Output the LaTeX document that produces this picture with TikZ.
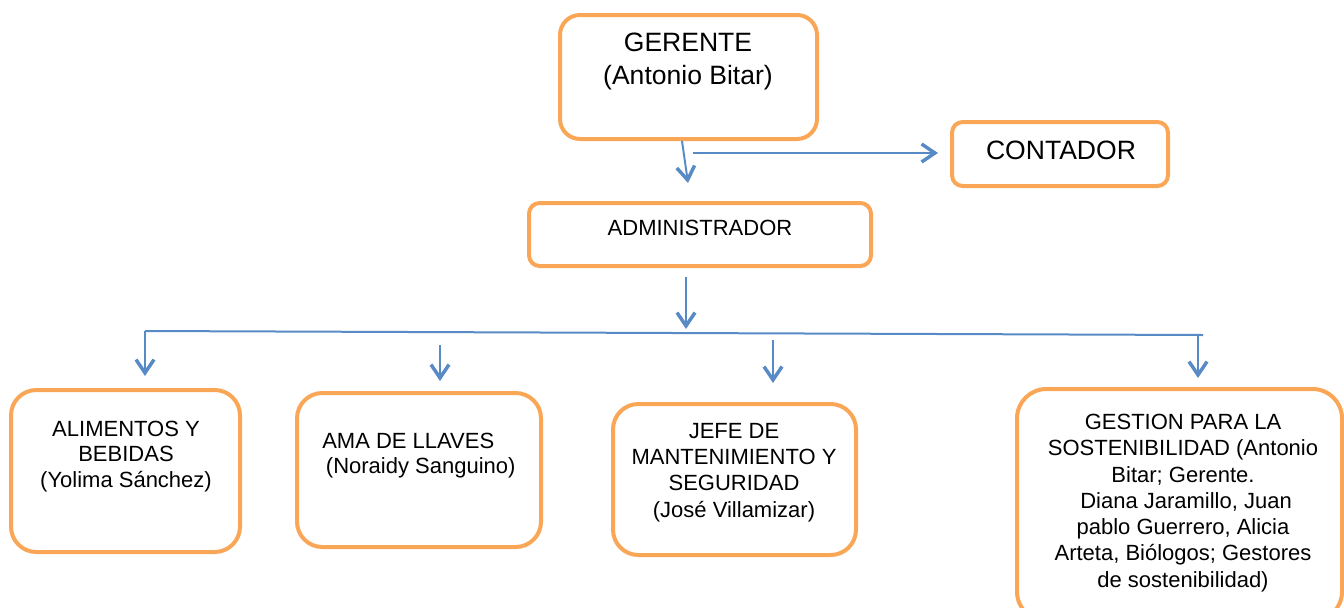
\documentclass[tikz,border=0pt]{standalone}
\usepackage{fontspec}
\setmainfont{Liberation Sans}
\usetikzlibrary{arrows.meta,calc}
\definecolor{boxorange}{RGB}{250,166,87}
\definecolor{arrowblue}{RGB}{88,138,198}
\tikzset{
  box/.style={draw=boxorange, line width=3pt, fill=white, rectangle, inner sep=0pt},
  bigtxt/.style={align=center, inner sep=0pt, font=\fontsize{19.9}{24.75}\selectfont},
  smalltxt/.style={align=center, inner sep=0pt, font=\fontsize{16.5}{19.3}\selectfont},
  tiptxt/.style={align=center, inner sep=0pt, font=\fontsize{16.5}{19.7}\selectfont},
  conn/.style={draw=arrowblue, line width=1.5pt},
  arr/.style={conn, -{Straight Barb[length=10pt,width=13.5pt,line width=2.6pt]}}
}
\begin{document}
\begin{tikzpicture}[x=0.75pt,y=-0.75pt]
\useasboundingbox (0,0) rectangle (1344,607);
% boxes
\node[box, rounded corners=15pt, minimum width=257*0.75pt, minimum height=124*0.75pt] (ger) at (688.5,77) {};
\node[box, rounded corners=8pt, minimum width=216*0.75pt, minimum height=64*0.75pt] (con) at (1060,154) {};
\node[box, rounded corners=8pt, minimum width=342*0.75pt, minimum height=63*0.75pt] (adm) at (700,234.5) {};
\node[box, rounded corners=19pt, minimum width=229*0.75pt, minimum height=162*0.75pt] (ali) at (125.5,471) {};
\node[box, rounded corners=19pt, minimum width=244*0.75pt, minimum height=154*0.75pt] (ama) at (419,470) {};
\node[box, rounded corners=19pt, minimum width=243*0.75pt, minimum height=151*0.75pt] (jef) at (734.5,479.5) {};
\node[box, rounded corners=22pt, minimum width=325*0.75pt, minimum height=232*0.75pt] (ges) at (1179.5,505) {};
% texts
\node[bigtxt] (tger) at (688,61.5) {GERENTE\\(Antonio Bitar)};
\node[bigtxt] (tcon) at (1061,150) {CONTADOR};
\node[smalltxt] (tadm) at (700,228) {ADMINISTRADOR};
\node[smalltxt] (tali) at (126,456.5) {ALIMENTOS Y\\BEBIDAS\\(Yolima Sánchez)};
\node[smalltxt, align=left, anchor=west] (tama) at (322,455.5) {AMA DE LLAVES\\\,(Noraidy Sanguino)};
\node[tiptxt] (tjef) at (734,472.5) {JEFE DE\\MANTENIMIENTO Y\\SEGURIDAD\\(José Villamizar)};
\node[tiptxt] (tges) at (1183,503) {GESTION PARA LA\\SOSTENIBILIDAD (Antonio\\Bitar; Gerente.\\\ Diana Jaramillo, Juan\\pablo Guerrero, Alicia\\Arteta, Biólogos; Gestores\\de sostenibilidad)};
% connector points
\coordinate (conStart) at (693,153);
\coordinate (busL) at (145,331);
\coordinate (busR) at (1203,335);
\coordinate (amaTop) at (440,345);
\coordinate (jefTop) at (773,340);
\coordinate (gesTop) at (1198,335);
% connectors
\draw[arr] ($(ger.south)+(-6.5,0)$) -- ($(adm.north)+(-12,-18)$);
\draw[arr] (conStart) -- ($(con.west)+(-12,-1)$);
\draw[arr] ($(adm.south)+(-14,9)$) -- ($(adm.south)+(-14,61)$);
\draw[conn] (busL) -- (busR);
\draw[arr] (busL) -- ($(ali.north)+(19.5,-12)$);
\draw[arr] (amaTop) -- ($(ama.north)+(21,-10)$);
\draw[arr] (jefTop) -- ($(jef.north)+(38.5,-19)$);
\draw[arr] (gesTop) -- ($(ges.north)+(18.5,-9)$);
\end{tikzpicture}
\end{document}
